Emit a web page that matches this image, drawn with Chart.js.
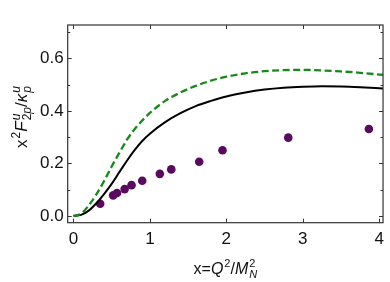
<!DOCTYPE html>
<html>
<head>
<meta charset="utf-8">
<script src="https://cdn.jsdelivr.net/npm/chart.js@4"></script>
<style>
  html, body { margin: 0; padding: 0; background: #fff; }
  #wrap { width: 390px; height: 282px; }
</style>
</head>
<body>
<div id="wrap"><canvas id="chart" width="390" height="282"></canvas></div>
<script>
// data
const curveX = [0, 0.1, 0.2, 0.3, 0.4, 0.5, 0.6, 0.7, 0.8, 0.9, 1.0, 1.2, 1.4, 1.6, 1.8, 2.0, 2.25, 2.5, 2.75, 3.0, 3.25, 3.5, 3.75, 4.05];
const solidY = [0, 0.004, 0.02, 0.048, 0.083, 0.122, 0.166, 0.21, 0.25, 0.285, 0.313, 0.357, 0.391, 0.418, 0.438, 0.455, 0.47, 0.481, 0.488, 0.492, 0.494, 0.493, 0.49, 0.485];
const dashedY = [0, 0.008, 0.04, 0.082, 0.132, 0.188, 0.24, 0.29, 0.33, 0.363, 0.392, 0.438, 0.47, 0.495, 0.515, 0.53, 0.543, 0.551, 0.555, 0.556, 0.554, 0.55, 0.545, 0.537];
const dataX = [0.35, 0.52, 0.57, 0.67, 0.76, 0.90, 1.13, 1.28, 1.645, 1.95, 2.81, 3.865];
const dataY = [0.046, 0.078, 0.087, 0.102, 0.117, 0.134, 0.160, 0.177, 0.206, 0.250, 0.298, 0.331];
const xTicks = [0, 1, 2, 3, 4];
const yTicks = [0, 0.2, 0.4, 0.6];
const yMinor = [0.1, 0.3, 0.5, 0.7];

const FONT = "'Liberation Sans', Arial, sans-serif";

const pts = (xs, ys) => xs.map((x, i) => ({ x: x, y: ys[i] }));

// draw text with italics, superscripts and subscripts
function richWidth(ctx, parts, size, small) {
  let w = 0;
  parts.forEach(p => {
    if (p.sup !== undefined || p.sub !== undefined) {
      let a = 0, b = 0;
      if (p.sup) { ctx.font = (p.si ? "italic " : "") + small + "px " + FONT; a = ctx.measureText(p.sup).width; }
      if (p.sub) { ctx.font = (p.bi ? "italic " : "") + small + "px " + FONT; b = ctx.measureText(p.sub).width; }
      w += Math.max(a, b) + 1;
    } else {
      ctx.font = (p.i ? "italic " : "") + size + "px " + FONT;
      w += ctx.measureText(p.t).width;
    }
  });
  return w;
}
function richDraw(ctx, parts, x, y, size, small) {
  ctx.textAlign = "left";
  ctx.textBaseline = "alphabetic";
  parts.forEach(p => {
    if (p.sup !== undefined || p.sub !== undefined) {
      let a = 0, b = 0;
      if (p.sup) {
        ctx.font = (p.si ? "italic " : "") + small + "px " + FONT;
        ctx.fillText(p.sup, x + 1, y - size * 0.42);
        a = ctx.measureText(p.sup).width;
      }
      if (p.sub) {
        // sub may mix upright and italic pieces
        let sx = x + 1;
        p.sub.split("").forEach((ch, k) => {
          const it = p.subItal ? p.subItal[k] : p.bi;
          ctx.font = (it ? "italic " : "") + small + "px " + FONT;
          ctx.fillText(ch, sx, y + size * 0.25);
          sx += ctx.measureText(ch).width;
        });
        b = sx - x - 1;
      }
      x += Math.max(a, b) + 1;
    } else {
      ctx.font = (p.i ? "italic " : "") + size + "px " + FONT;
      ctx.fillText(p.t, x, y);
      x += ctx.measureText(p.t).width;
    }
  });
}

const yTitle = [
  { t: "x" }, { sup: "2" }, { t: "F", i: true },
  { sup: "u", si: true, sub: "2p", subItal: [false, true] },
  { t: "/" }, { t: "κ", i: true },
  { sup: "u", si: true, sub: "p", bi: true }
];
const xTitle = [
  { t: "x=" }, { t: "Q", i: true }, { sup: "2" }, { t: "/" }, { t: "M", i: true },
  { sup: "2", sub: "N", bi: true }
];

const framePlugin = {
  id: "frame",
  afterDatasetsDraw(chart) {
    const ctx = chart.ctx;
    const a = chart.chartArea;
    const xs = chart.scales.x, ys = chart.scales.y;
    ctx.save();
    ctx.strokeStyle = "#333";
    ctx.lineWidth = 1.2;
    ctx.strokeRect(a.left, a.top, a.right - a.left, a.bottom - a.top);
    ctx.lineWidth = 1;
    ctx.beginPath();
    xTicks.forEach(v => {
      const px = Math.round(xs.getPixelForValue(v)) + 0.5;
      ctx.moveTo(px, a.bottom); ctx.lineTo(px, a.bottom - 4);
      ctx.moveTo(px, a.top); ctx.lineTo(px, a.top + 4);
    });
    yTicks.forEach(v => {
      const py = Math.round(ys.getPixelForValue(v)) + 0.5;
      ctx.moveTo(a.left, py); ctx.lineTo(a.left + 4, py);
      ctx.moveTo(a.right, py); ctx.lineTo(a.right - 4, py);
    });
    yMinor.forEach(v => {
      const py = Math.round(ys.getPixelForValue(v)) + 0.5;
      ctx.moveTo(a.left, py); ctx.lineTo(a.left + 2.5, py);
      ctx.moveTo(a.right, py); ctx.lineTo(a.right - 2.5, py);
    });
    ctx.stroke();

    // axis titles
    ctx.fillStyle = "#111";
    const wx = richWidth(ctx, xTitle, 16, 11);
    richDraw(ctx, xTitle, (a.left + a.right) / 2 - wx / 2, 274, 16, 11);
    ctx.save();
    ctx.translate(27, 117);
    ctx.rotate(-Math.PI / 2);
    const wy = richWidth(ctx, yTitle, 17, 12);
    richDraw(ctx, yTitle, -wy / 2, 0, 17, 12);
    ctx.restore();
    ctx.restore();
  }
};

new Chart(document.getElementById("chart"), {
  type: "scatter",
  data: {
    datasets: [
      {
        data: pts(curveX, dashedY),
        showLine: true,
        borderColor: "#168a16",
        borderWidth: 2.3,
        borderDash: [7, 3.5],
        pointRadius: 0,
        cubicInterpolationMode: "monotone"
      },
      {
        data: pts(curveX, solidY),
        showLine: true,
        borderColor: "#000",
        borderWidth: 2,
        pointRadius: 0,
        cubicInterpolationMode: "monotone"
      },
      {
        data: pts(dataX, dataY),
        showLine: false,
        pointRadius: 4.3,
        pointBackgroundColor: "#5a0a5e",
        pointBorderWidth: 0
      }
    ]
  },
  options: {
    responsive: false,
    animation: false,
    layout: { padding: { top: 25, right: 5, left: 0, bottom: 0 } },
    plugins: { legend: { display: false }, tooltip: { enabled: false } },
    scales: {
      x: {
        type: "linear",
        min: -0.075,
        max: 4.05,
        afterBuildTicks: s => { s.ticks = xTicks.map(v => ({ value: v })); },
        afterFit: s => { s.height = 59.3; },
        grid: { display: false, drawTicks: false },
        border: { display: false },
        ticks: {
          padding: 6,
          color: "#111",
          font: { family: FONT, size: 17 },
          callback: v => String(v)
        }
      },
      y: {
        min: -0.026,
        max: 0.727,
        afterBuildTicks: s => { s.ticks = yTicks.map(v => ({ value: v })); },
        afterFit: s => { s.width = 67.7; },
        grid: { display: false, drawTicks: false },
        border: { display: false },
        ticks: {
          padding: 4,
          color: "#111",
          font: { family: FONT, size: 17 },
          callback: v => v.toFixed(1)
        }
      }
    }
  },
  plugins: [framePlugin]
});
</script>
</body>
</html>
